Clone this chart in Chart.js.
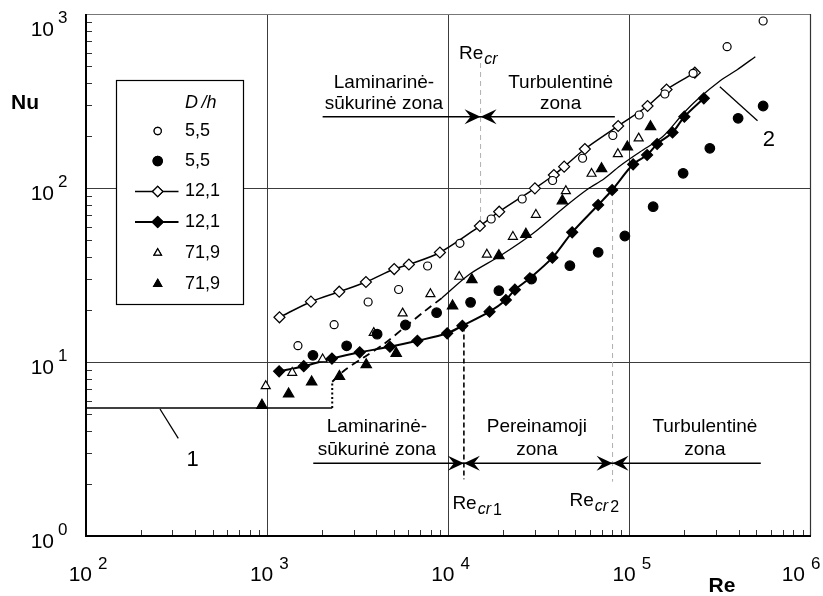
<!DOCTYPE html>
<html><head><meta charset="utf-8">
<script src="https://cdn.jsdelivr.net/npm/chart.js@4.4.1/dist/chart.umd.min.js"></script>
<style>html,body{margin:0;padding:0;background:#fff;}canvas{display:block;}</style>
</head><body>
<canvas id="c" width="823" height="596"></canvas>
<script>
// ---- tick labels (powers of ten) ----
const xTickExponents = [2, 3, 4, 5, 6];
const yTickExponents = [0, 1, 2, 3];

// ---- D/h = 5,5 (open circles) ----
const re55open = [1477, 2339, 3602, 5305, 7667, 11560, 17200, 25500, 37530, 54920, 80680, 112700, 156200, 223700, 344500, 544400];
const nu55open = [12.41, 16.39, 22.12, 26.11, 35.62, 48.11, 66.33, 86.47, 110.4, 148.2, 200.3, 262.7, 346.9, 456.2, 648.7, 911.8];
// ---- D/h = 5,5 (filled circles) ----
const re55fill = [1787, 2742, 4038, 5785, 8598, 13240, 18970, 28730, 46730, 66940, 93970, 134600, 197000, 276600, 396200, 544400];
const nu55fill = [10.93, 12.39, 14.45, 16.32, 19.20, 22.03, 25.69, 29.99, 35.76, 42.71, 52.98, 78.07, 121.5, 169.1, 251.5, 296.0];
// ---- D/h = 12,1 (open diamonds, line) ----
const re121open = [1168, 1742, 2495, 3503, 5017, 6047, 8967, 14900, 19040, 29970, 38140, 43460, 56550, 86300, 125400, 159600, 228600];
const nu121open = [18.07, 22.21, 25.35, 28.83, 34.22, 36.33, 42.59, 60.47, 73.07, 99.6, 118.8, 132.6, 167.5, 227.2, 296.0, 368.1, 459.8];
// ---- D/h = 12,1 (filled diamonds, line) ----
const re121fill = [1163, 1590, 2275, 3237, 4752, 6737, 9836, 11930, 16850, 20730, 23240, 28120, 37430, 48130, 66940, 79970, 104400, 124700, 141600, 172200, 200100, 256300];
const nu121fill = [8.843, 9.461, 10.47, 11.37, 12.24, 13.24, 14.62, 16.15, 19.46, 22.71, 26.04, 30.30, 39.77, 55.65, 79.86, 97.39, 136.8, 154.8, 179.0, 208.4, 256.9, 327.7];
// ---- D/h = 71,9 (open triangles) ----
const re719open = [981, 1373, 2021, 3868, 5583, 7947, 11460, 16280, 22660, 30350, 44410, 61560, 86000, 112000];
const nu719open = [7.278, 8.681, 10.38, 14.72, 19.05, 24.59, 30.93, 41.48, 52.49, 70.24, 96.1, 120.9, 156.8, 193.0];
// ---- D/h = 71,9 (filled triangles) ----
const re719fill = [935, 1312, 1758, 2502, 3517, 5146, 10530, 13460, 18970, 26730, 42480, 69900, 97000, 130200];
const nu719fill = [5.638, 6.548, 7.674, 8.254, 9.649, 11.22, 20.98, 29.72, 40.83, 54.19, 84.41, 129.1, 172.0, 225.1];

// ---- curve 2 (dashed part, then solid part) ----
const curve2DashRe = [2283, 2683, 3458, 4460, 5748, 7410, 9197];
const curve2DashNu = [7.70, 8.995, 10.73, 12.81, 15.89, 19.64, 23.32];
const curve2Re = [9197, 13120, 19210, 29210, 44410, 58740, 71960, 88200, 113700, 152300, 196300, 234500, 314100, 389700, 493000];
const curve2Nu = [23.32, 32.04, 40.66, 54.77, 78.82, 98.7, 112.6, 133.8, 161.0, 197.7, 266.2, 320.4, 412.0, 476.7, 568.4];
// ---- line 1 (laminar level) and dotted step ----
const line1Re = [100, 2283];
const line1Nu = [5.44, 5.44];
const stepRe = [2283, 2283];
const stepNu = [5.44, 7.70];
// ---- leader lines for labels 1 and 2 ----
const leader1Re = [256, 323];
const leader1Nu = [5.37, 3.64];
const leader2Re = [314100, 506900];
const leader2Nu = [382.1, 243.7];
const curveLabels = [{t: '1', re: 388, nu: 2.734}, {t: '2', re: 585000, nu: 188.7}];

// ---- critical Reynolds numbers ----
const reCr = 15030, reCr1 = 12160, reCr2 = 80380;
const reCrDashNu = [522.9, 63.8];
const reCr1DashNu = [16.0, 2.118];
const reCr2DashNu = [85.3, 2.051];
// ---- zone arrow lines ----
const upperArrowRe = [2021, 82750], upperArrowNu = 256.9;
const lowerArrowRe = [1794, 528500], lowerArrowNu = 2.617;
// ---- zone texts ----
const zoneTexts = [
  {t: 'Laminarinė-', re: 4403, nu: 401.3},
  {t: 'sūkurinė zona', re: 4403, nu: 303.9},
  {t: 'Turbulentinė', re: 41570, nu: 401.3},
  {t: 'zona', re: 41570, nu: 303.9},
  {t: 'Laminarinė-', re: 4029, nu: 4.23},
  {t: 'sūkurinė zona', re: 4029, nu: 3.121},
  {t: 'Pereinamoji', re: 30730, nu: 4.23},
  {t: 'zona', re: 30730, nu: 3.121},
  {t: 'Turbulentinė', re: 259600, nu: 4.23},
  {t: 'zona', re: 259600, nu: 3.121}
];
const legendHeader = 'D/h';
const legendLabels = ['5,5', '5,5', '12,1', '12,1', '71,9', '71,9'];

const FONT = '"Liberation Sans", Arial, Helvetica, sans-serif';
const xy = (xs, ys) => xs.map((x, i) => ({x: x, y: ys[i]}));

function markerDs(xs, ys, style, r, fill, order) {
  return {data: xy(xs, ys), showLine: false, pointStyle: style, pointRadius: r,
    pointBackgroundColor: fill, pointBorderColor: '#000', pointBorderWidth: 1.2, order: order};
}
function lineDs(xs, ys, w, dash, tension, order) {
  return {data: xy(xs, ys), showLine: true, borderColor: '#000', borderWidth: w, borderDash: dash || [],
    tension: tension, pointRadius: 0, order: order};
}

const datasets = [
  lineDs(curve2DashRe, curve2DashNu, 1.8, [8, 5], 0.3, 20),
  lineDs(curve2Re, curve2Nu, 1.3, [], 0.3, 20),
  lineDs(line1Re, line1Nu, 1.3, [], 0, 20),
  lineDs(stepRe, stepNu, 2, [2, 2.5], 0, 20),
  lineDs(leader1Re, leader1Nu, 1.3, [], 0, 20),
  lineDs(leader2Re, leader2Nu, 1.3, [], 0, 20),
  Object.assign(markerDs(re121open, nu121open, 'rectRot', 5.5, '#fff', 5), {showLine: true, borderColor: '#000', borderWidth: 1.5, tension: 0.3}),
  Object.assign(markerDs(re121fill, nu121fill, 'rectRot', 5.5, '#000', 4), {showLine: true, borderColor: '#000', borderWidth: 2, tension: 0.3}),
  markerDs(re55open, nu55open, 'circle', 4, '#fff', 1),
  markerDs(re55fill, nu55fill, 'circle', 4.8, '#000', 1),
  markerDs(re719open, nu719open, 'triangle', 5.2, '#fff', 1),
  markerDs(re719fill, nu719fill, 'triangle', 6, '#000', 1)
];

const isDecade = v => Math.abs(Math.log10(v) - Math.round(Math.log10(v))) < 1e-9;

function arrowHead(ctx, tipX, y, dir) {
  const L = 16, W = 7.5, N = 10;
  ctx.beginPath();
  ctx.moveTo(tipX, y);
  ctx.lineTo(tipX - dir * L, y - W);
  ctx.lineTo(tipX - dir * N, y);
  ctx.lineTo(tipX - dir * L, y + W);
  ctx.closePath();
  ctx.fill();
}

const decor = {
  id: 'decor',
  beforeDatasetsDraw(chart) {
    const ctx = chart.ctx, sx = chart.scales.x, sy = chart.scales.y, a = chart.chartArea;
    ctx.save();
    // minor ticks (inside)
    ctx.strokeStyle = '#333'; ctx.lineWidth = 1;
    for (let d = 2; d < 6; d++) for (let m = 2; m <= 9; m++) {
      const x = Math.round(sx.getPixelForValue(m * Math.pow(10, d))) + 0.5;
      ctx.beginPath(); ctx.moveTo(x, a.bottom); ctx.lineTo(x, a.bottom - 6); ctx.stroke();
    }
    for (let d = 0; d < 3; d++) for (let m = 2; m <= 9; m++) {
      const y = Math.round(sy.getPixelForValue(m * Math.pow(10, d))) + 0.5;
      ctx.beginPath(); ctx.moveTo(a.left, y); ctx.lineTo(a.left + 6, y); ctx.stroke();
    }
    // frame
    ctx.strokeStyle = '#777'; ctx.lineWidth = 1.2;
    ctx.beginPath(); ctx.moveTo(a.left, a.top + 0.5); ctx.lineTo(a.right, a.top + 0.5); ctx.stroke();
    ctx.strokeStyle = '#333'; ctx.lineWidth = 1.2;
    ctx.beginPath(); ctx.moveTo(a.right - 0.5, a.top); ctx.lineTo(a.right - 0.5, a.bottom); ctx.stroke();
    ctx.strokeStyle = '#000'; ctx.lineWidth = 2;
    ctx.beginPath(); ctx.moveTo(a.left, a.top); ctx.lineTo(a.left, a.bottom); ctx.lineTo(a.right, a.bottom); ctx.stroke();

    // critical Re vertical dashed lines
    const vline = (re, nus, color, w, dash) => {
      const x = sx.getPixelForValue(re);
      ctx.strokeStyle = color; ctx.lineWidth = w; ctx.setLineDash(dash);
      ctx.beginPath(); ctx.moveTo(x, sy.getPixelForValue(nus[0])); ctx.lineTo(x, sy.getPixelForValue(nus[1])); ctx.stroke();
      ctx.setLineDash([]);
    };
    vline(reCr, reCrDashNu, '#b0b0b0', 1, [5, 4]);
    vline(reCr2, reCr2DashNu, '#b0b0b0', 1, [5, 4]);
    vline(reCr1, reCr1DashNu, '#000', 1.6, [5, 3]);

    // arrow lines
    ctx.strokeStyle = '#000'; ctx.fillStyle = '#000'; ctx.lineWidth = 1.6;
    const uy = sy.getPixelForValue(upperArrowNu);
    ctx.beginPath(); ctx.moveTo(sx.getPixelForValue(upperArrowRe[0]), uy); ctx.lineTo(sx.getPixelForValue(upperArrowRe[1]), uy); ctx.stroke();
    const ly = sy.getPixelForValue(lowerArrowNu);
    ctx.beginPath(); ctx.moveTo(sx.getPixelForValue(lowerArrowRe[0]), ly); ctx.lineTo(sx.getPixelForValue(lowerArrowRe[1]), ly); ctx.stroke();
    for (const [re, y] of [[reCr, uy], [reCr1, ly], [reCr2, ly]]) {
      const x = sx.getPixelForValue(re);
      arrowHead(ctx, x, y, 1); arrowHead(ctx, x, y, -1);
    }
    ctx.restore();
  },
  afterDatasetsDraw(chart) {
    const ctx = chart.ctx, sx = chart.scales.x, sy = chart.scales.y, a = chart.chartArea;
    ctx.save();
    ctx.fillStyle = '#000';
    // tick labels
    for (const e of xTickExponents) {
      const x = sx.getPixelForValue(Math.pow(10, e));
      const dx = e === 6 ? -12 : 0;
      ctx.font = '21px ' + FONT; ctx.textAlign = 'right'; ctx.textBaseline = 'alphabetic';
      ctx.fillText('10', x + 6 + dx, 581);
      ctx.font = '17px ' + FONT; ctx.textAlign = 'left';
      ctx.fillText(String(e), x + 12 + dx, 569);
    }
    for (const e of yTickExponents) {
      const y = sy.getPixelForValue(Math.pow(10, e));
      const dy = e === 3 ? 10 : 0;
      ctx.font = '21px ' + FONT; ctx.textAlign = 'right';
      ctx.fillText('10', 54, y + 12 + dy);
      ctx.font = '17px ' + FONT; ctx.textAlign = 'left';
      ctx.fillText(String(e), 58, y - 1 + dy);
    }
    // axis titles
    ctx.font = 'bold 21px ' + FONT; ctx.textAlign = 'center'; ctx.textBaseline = 'middle';
    ctx.fillText('Nu', 25, 103);
    ctx.fillText('Re', 722, 586);

    // zone texts
    ctx.font = '19px ' + FONT;
    for (const z of zoneTexts) ctx.fillText(z.t, sx.getPixelForValue(z.re), sy.getPixelForValue(z.nu));
    // curve labels
    ctx.font = '22px ' + FONT;
    for (const c of curveLabels) ctx.fillText(c.t, sx.getPixelForValue(c.re), sy.getPixelForValue(c.nu));

    // Re_cr labels
    const reLabel = (re, dxRe, yRe, sub) => {
      const x0 = sx.getPixelForValue(re) + dxRe;
      ctx.textAlign = 'left'; ctx.textBaseline = 'alphabetic';
      ctx.font = '19px ' + FONT; ctx.fillText('Re', x0, yRe);
      let w = ctx.measureText('Re').width + 1;
      ctx.font = 'italic 16px ' + FONT; ctx.fillText('cr', x0 + w, yRe + 5);
      w += ctx.measureText('cr').width + 2;
      if (sub) { ctx.font = '16px ' + FONT; ctx.fillText(sub, x0 + w, yRe + 6); }
    };
    reLabel(reCr, -21.5, 59, '');
    reLabel(reCr1, -11.5, 509, '1');
    reLabel(reCr2, -43, 506, '2');

    // legend box
    const L = {l: 116.5, t: 80.5, r: 243.5, b: 304.5};
    ctx.fillStyle = '#fff'; ctx.fillRect(L.l, L.t, L.r - L.l, L.b - L.t);
    ctx.strokeStyle = '#000'; ctx.lineWidth = 1.2; ctx.strokeRect(L.l, L.t, L.r - L.l, L.b - L.t);
    ctx.fillStyle = '#000';
    ctx.font = 'italic 18px ' + FONT; ctx.textAlign = 'left'; ctx.textBaseline = 'middle';
    ctx.fillText(legendHeader.replace('/', '\u2009/'), 185, 103);
    const rows = [131, 161, 191.5, 222, 253, 284];
    const mx = 157.7;
    const styles = [['circle', 3.6, '#fff', false], ['circle', 4.6, '#000', false], ['rectRot', 5.2, '#fff', 1.6],
      ['rectRot', 5.5, '#000', 2.2], ['triangle', 4.3, '#fff', false], ['triangle', 4.6, '#000', false]];
    rows.forEach((y, i) => {
      const [st, r, fill, lw] = styles[i];
      if (lw) {
        ctx.strokeStyle = '#000'; ctx.lineWidth = lw;
        ctx.beginPath(); ctx.moveTo(135, y); ctx.lineTo(178.5, y); ctx.stroke();
      }
      ctx.fillStyle = fill; ctx.strokeStyle = '#000'; ctx.lineWidth = 1.2;
      Chart.helpers.drawPoint(ctx, {pointStyle: st, radius: r, borderWidth: 1.2, rotation: 0}, mx, y);
      ctx.fill(); ctx.stroke();
      ctx.fillStyle = '#000'; ctx.font = '18px ' + FONT;
      ctx.fillText(legendLabels[i], 185, y);
    });
    ctx.restore();
  }
};

new Chart(document.getElementById('c'), {
  type: 'scatter',
  data: {datasets: datasets},
  options: {
    responsive: false, animation: false, devicePixelRatio: 1,
    layout: {padding: {left: 86, top: 14, right: 12, bottom: 60}},
    plugins: {legend: {display: false}, tooltip: {enabled: false}},
    scales: {
      x: {type: 'logarithmic', min: 100, max: 1e6,
        ticks: {display: false},
        grid: {drawTicks: false, lineWidth: 1,
          color: c => (c.tick && isDecade(c.tick.value) && c.tick.value > 100 && c.tick.value < 1e6) ? '#3c3c3c' : 'rgba(0,0,0,0)'},
        border: {display: false}},
      y: {type: 'logarithmic', min: 1, max: 1000,
        ticks: {display: false},
        grid: {drawTicks: false, lineWidth: 1,
          color: c => (c.tick && isDecade(c.tick.value) && c.tick.value > 1 && c.tick.value < 1000) ? '#3c3c3c' : 'rgba(0,0,0,0)'},
        border: {display: false}}
    }
  },
  plugins: [decor]
});
</script>
</body></html>
